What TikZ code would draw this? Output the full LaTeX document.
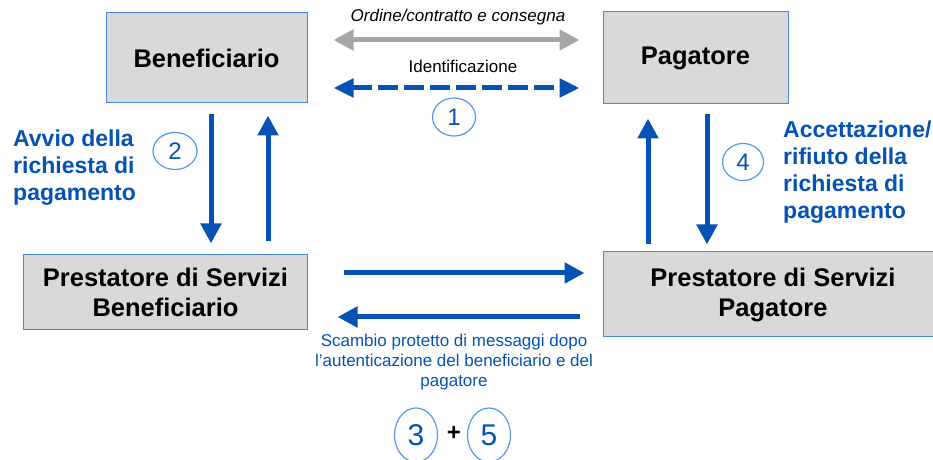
\documentclass[tikz,border=0pt]{standalone}
\usepackage{fontspec}
\setmainfont{Liberation Sans}
\usetikzlibrary{arrows.meta,shapes.geometric}
\definecolor{arrowblue}{RGB}{5,82,180}
\definecolor{boxfill}{RGB}{217,217,217}
\definecolor{boxline}{RGB}{70,135,215}
\definecolor{circline}{RGB}{85,150,240}
\definecolor{arrowgray}{RGB}{166,166,166}
\begin{document}
\begin{tikzpicture}[x=1bp,y=-1bp,
  box/.style={draw=boxline, line width=1bp, fill=boxfill, inner sep=0, align=center,
    font=\fontsize{25.5bp}{30bp}\selectfont\bfseries},
  bluearrow/.style={draw=arrowblue, line width=5bp, -{Triangle[width=20bp,length=20bp]}},
  grayarrow/.style={draw=arrowgray, line width=5bp,
    {Triangle[width=20bp,length=20bp]}-{Triangle[width=20bp,length=20bp]}},
  dasharrow/.style={draw=arrowblue, line width=5bp, dash pattern=on 20bp off 6bp,
    {Triangle[width=18bp,length=20bp]}-{Triangle[width=18bp,length=20bp]}},
  numcirc/.style={ellipse, draw=circline, line width=1.2bp, inner sep=0, text=arrowblue,
    font=\fontsize{24bp}{24bp}\selectfont},
  smalltext/.style={font=\fontsize{17bp}{20bp}\selectfont, inner sep=0},
  steptext/.style={text=arrowblue, inner sep=0, anchor=base west,
    font=\fontsize{23bp}{26.7bp}\selectfont\bfseries}
]
\useasboundingbox (0,0) rectangle (933,460);

% boxes
\node[box, minimum width=201bp, minimum height=90bp] (benef) at (206.5,58) {Beneficiario};
\node[box, minimum width=185bp, minimum height=92bp] (pag) at (695.5,58) {Pagatore};
\node[box, minimum width=283bp, minimum height=75bp] (pspb) at (165.5,292.5) {Prestatore di Servizi\\Beneficiario};
\node[box, minimum width=340bp, minimum height=85bp] (pspp) at (773,294.5) {Prestatore di Servizi\\Pagatore};

% top arrows
\draw[grayarrow, shorten <=26bp, shorten >=23bp] ([yshift=18bp]benef.east) -- ([yshift=18bp]benef.east -| pag.west);
\draw[dasharrow, shorten <=26bp, shorten >=23bp] ([yshift=-30bp]benef.east) -- ([yshift=-30bp]benef.east -| pag.west);
\node[smalltext, anchor=base, font=\fontsize{17bp}{20bp}\selectfont\itshape] (lord) at (458,22) {Ordine/contratto e consegna};
\node[smalltext, anchor=base] (lid) at (463,73) {Identificazione};
\node[numcirc, minimum width=43bp, minimum height=38bp] (c1) at (454,117) {1};

% left vertical arrows
\coordinate (ld) at ([xshift=4.5bp]benef.south);
\coordinate (lu) at ([xshift=61.5bp]benef.south);
\draw[bluearrow, shorten <=11bp, shorten >=11bp] (ld) -- (ld |- pspb.north);
\draw[bluearrow, shorten <=13bp, shorten >=12bp] (lu |- pspb.north) -- (lu);
\node[numcirc, minimum width=44bp, minimum height=37bp] (c2) at (175,151) {2};
\node[steptext] (lavvio) at (13,147) {\parbox[t]{150bp}{\raggedright Avvio della\\richiesta di\\pagamento}};

% right vertical arrows
\coordinate (ru) at ([xshift=-47.5bp]pag.south);
\coordinate (rd) at ([xshift=11.5bp]pag.south);
\draw[bluearrow, shorten <=7bp, shorten >=14bp] (ru |- pspp.north) -- (ru);
\draw[bluearrow, shorten <=10bp, shorten >=7bp] (rd) -- (rd |- pspp.north);
\node[numcirc, minimum width=41bp, minimum height=37bp] (c4) at (743,162) {4};
\node[steptext] (lacc) at (783,138) {\parbox[t]{160bp}{\raggedright Accettazione/\\rifiuto della\\richiesta di\\pagamento}};

% horizontal arrows
\draw[bluearrow, shorten <=36bp, shorten >=18bp] ([yshift=19.5bp]pspb.east) -- ([yshift=19.5bp]pspb.east -| pspp.west);
\draw[bluearrow, shorten <=23bp, shorten >=30bp] ([yshift=-24.5bp]pspb.east -| pspp.west) -- ([yshift=-24.5bp]pspb.east);
\node[smalltext, anchor=base, text=arrowblue] (lscambio) at (454,347) {\parbox[t]{320bp}{\centering Scambio protetto di messaggi dopo\\l’autenticazione del beneficiario e del\\pagatore}};

% bottom circles
\node[numcirc, minimum width=43bp, minimum height=54bp, font=\fontsize{30bp}{30bp}\selectfont] (c3) at (416,435) {3};
\node[numcirc, minimum width=43bp, minimum height=54bp, font=\fontsize{30bp}{30bp}\selectfont] (c5) at (489,435) {5};
\node[inner sep=0, font=\fontsize{24bp}{24bp}\selectfont\bfseries] (plus) at (454,433) {+};
\end{tikzpicture}
\end{document}
